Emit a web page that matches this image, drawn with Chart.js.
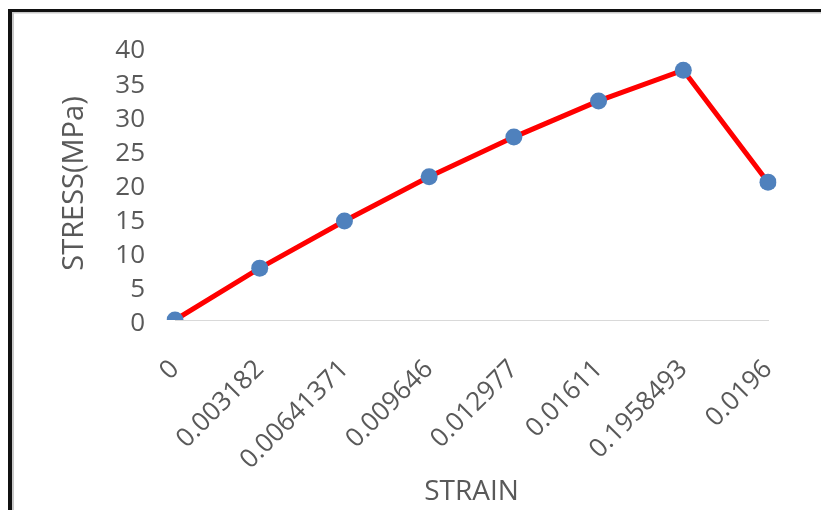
<!DOCTYPE html>
<html>
<head>
<meta charset="utf-8">
<style>
  html, body { margin: 0; padding: 0; background: #ffffff; }
  #wrap { width: 821px; height: 510px; }
</style>
<script src="https://cdn.jsdelivr.net/npm/chart.js@4/dist/chart.umd.min.js"></script>
</head>
<body>
<div id="wrap"><canvas id="c" width="821" height="510"></canvas></div>
<script>
// Strain readings (category labels) and measured stress in MPa
const strainLabels = ['0', '0.003182', '0.00641371', '0.009646', '0.012977', '0.01611', '0.1958493', '0.0196'];
const stressValues = [0, 7.6, 14.5, 21.0, 26.8, 32.1, 36.6, 20.2];
const stressTicks = { min: 0, max: 40, step: 5 };

const textGray = '#595959';
const fontFamily = '"Open Sans", "Liberation Sans", sans-serif';

// White page with the black frame on the left and top edges
const framePlugin = {
  id: 'frame',
  beforeDraw(chart) {
    const ctx = chart.ctx;
    ctx.save();
    ctx.fillStyle = '#ffffff';
    ctx.fillRect(0, 0, chart.width, chart.height);
    ctx.fillStyle = '#111111';
    ctx.fillRect(8, 9, 4, chart.height);
    ctx.fillRect(8, 9, chart.width, 3);
    ctx.fillStyle = '#c8c8c8';
    ctx.fillRect(12, 12, 2, chart.height);
    ctx.fillRect(12, 12, chart.width, 1.5);
    ctx.restore();
  }
};

new Chart(document.getElementById('c'), {
  type: 'line',
  data: {
    labels: strainLabels,
    datasets: [{
      data: stressValues,
      borderColor: '#ff0000',
      borderWidth: 5,
      tension: 0,
      pointRadius: 8.5,
      pointHoverRadius: 8.5,
      pointBackgroundColor: '#4f81bd',
      pointBorderColor: '#4f81bd',
      pointBorderWidth: 0
    }]
  },
  options: {
    responsive: false,
    devicePixelRatio: 1,
    animation: false,
    layout: { padding: { left: 50, right: 53, top: 47, bottom: 0 } },
    plugins: { legend: { display: false }, tooltip: { enabled: false } },
    scales: {
      x: {
        type: 'category',
        offset: false,
        afterFit(scale) {
          // fixed axis band; the slanted labels may overhang the plot edges
          scale.height = 190;
          scale.paddingLeft = 0;
          scale.paddingRight = 0;
        },
        grid: { display: false, drawTicks: false },
        border: { display: true, color: '#d9d9d9', width: 1 },
        ticks: {
          autoSkip: false,
          minRotation: 45,
          maxRotation: 45,
          padding: 34,
          labelOffset: 0,
          color: textGray,
          font: { family: fontFamily, size: 26 }
        },
        title: {
          display: true,
          text: 'STRAIN',
          color: textGray,
          font: { family: fontFamily, size: 28 },
          padding: { top: 0, bottom: 1 }
        }
      },
      y: {
        min: stressTicks.min,
        max: stressTicks.max,
        afterFit(scale) { scale.width = 125; },
        grid: { display: false, drawTicks: false },
        border: { display: false },
        ticks: {
          stepSize: stressTicks.step,
          autoSkip: false,
          padding: 30,
          labelOffset: 4,
          color: textGray,
          font: { family: fontFamily, size: 26 }
        },
        title: {
          display: true,
          text: 'STRESS(MPa)',
          color: textGray,
          font: { family: fontFamily, size: 29 },
          padding: { top: 7, bottom: 0 }
        }
      }
    }
  },
  plugins: [framePlugin]
});
</script>
</body>
</html>
